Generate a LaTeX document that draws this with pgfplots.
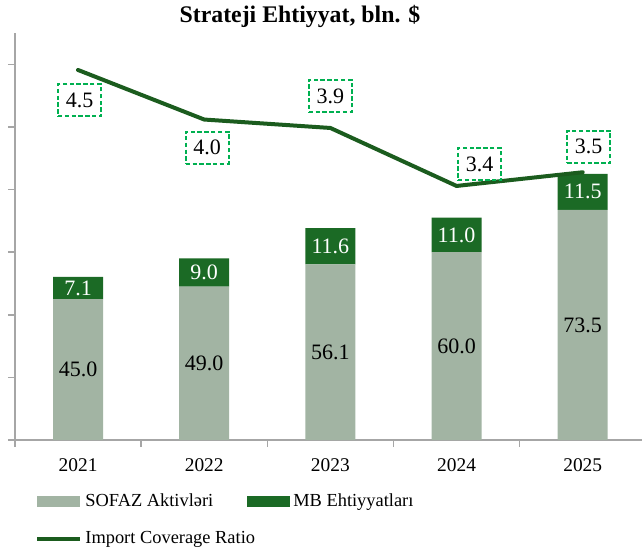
\documentclass[border=0pt]{standalone}
\usepackage{fontspec}
\setmainfont{Liberation Serif}
\usepackage{pgfplots}
\usepackage{pgfplotstable}
\pgfplotsset{compat=1.18}
\definecolor{sofaz}{RGB}{162,180,163}
\definecolor{mb}{RGB}{27,106,37}
\definecolor{lineg}{RGB}{27,92,30}
\definecolor{boxg}{RGB}{0,176,80}
\definecolor{axgray}{RGB}{166,166,166}

\pgfplotstableread{
x sofaz mb
0 45.0 7.1
1 49.0 9.0
2 56.1 11.6
3 60.0 11.0
4 73.5 11.5
}\bars

\pgfplotstableread{
x y lab dx dy
0 4.50 4.5 0.75 -15.25
1 4.03 4.0 1.5 -14
2 3.95 3.9 0 16
3 3.40 3.4 11.5 10.75
4 3.53 3.5 3 12.75
}\ratio

\begin{document}
\begin{tikzpicture}
\useasboundingbox (-7.5pt,-56pt) rectangle (313.5pt,220pt);
\begin{axis}[
  scale only axis, width=313.5pt, height=203.5pt,
  xmin=-0.5, xmax=4.47, ymin=0, ymax=130,
  ybar stacked, bar width=25pt,
  axis x line=bottom, axis y line=left,
  axis line style={draw=axgray, line width=0.75pt, -},
  tick style={draw=axgray, line width=0.75pt},
  tick align=outside,
  major tick length=3.5pt,
  ytick={0,20,...,120}, yticklabels={},
  xtick={-0.5,0.5,1.5,2.5,3.5}, xticklabels={},
  extra x ticks={0,1,2,3,4},
  extra x tick labels={2021,2022,2023,2024,2025},
  extra x tick style={major tick length=0pt},
  xticklabel style={anchor=center, yshift=-12.5pt, font=\fontsize{9.7}{12}\selectfont},
  /pgf/number format/assume math mode=true,
  title={Strateji Ehtiyyat, bln. \$},
  title style={font=\fontsize{11.9}{14}\selectfont\bfseries, at={(0.4545,1)}, anchor=center, yshift=2.5pt},
  legend columns=2,
  legend cell align=left,
  legend style={draw=none, fill=none, at={(axis description cs:0,0)}, anchor=north west,
    xshift=10pt, yshift=-25pt, font=\fontsize{9.2}{11}\selectfont, row sep=8pt, inner sep=0pt,
    nodes={inner sep=1.5pt},
    /tikz/every even column/.append style={column sep=15.5pt}},
]
\addplot[fill=sofaz, draw=none,
  point meta=explicit,
  nodes near coords={\pgfmathprintnumber[fixed,fixed zerofill,precision=1]{\pgfplotspointmeta}},
  every node near coord/.append style={anchor=center, text=black, font=\fontsize{11}{13}\selectfont},
  legend image code/.code={\fill[sofaz] (0pt,-2.75pt) rectangle (21.5pt,2.75pt);}
] table[x=x, y=sofaz, meta=sofaz] {\bars};
\addplot[fill=mb, draw=none,
  point meta=explicit,
  nodes near coords={\pgfmathprintnumber[fixed,fixed zerofill,precision=1]{\pgfplotspointmeta}},
  every node near coord/.append style={anchor=center, text=white, font=\fontsize{11}{13}\selectfont},
  legend image code/.code={\fill[mb] (0pt,-2.75pt) rectangle (21.5pt,2.75pt);}
] table[x=x, y=mb, meta=mb] {\bars};
\addlegendimage{legend image code/.code={\draw[lineg, line width=2pt] (0pt,0pt) -- (21.5pt,0pt);}}
\legend{SOFAZ Aktivləri, MB Ehtiyyatları, \makebox[0pt][l]{Import Coverage Ratio}}
\end{axis}
\begin{axis}[
  scale only axis, width=313.5pt, height=203.5pt,
  xmin=-0.5, xmax=4.47, ymin=0.99, ymax=4.851, hide axis]
\addplot[lineg, line width=2pt, line join=round, line cap=round, mark=none] table[x=x, y=y] {\ratio};
\addplot[draw=none, mark=none,
  point meta=explicit symbolic, nodes near coords,
  visualization depends on={\thisrow{dx} \as \dx},
  visualization depends on={\thisrow{dy} \as \dy},
  every node near coord/.append style={anchor=center, xshift=\dx pt, yshift=\dy pt,
    draw=boxg, dash pattern=on 2.2pt off 1.2pt, line width=1pt,
    minimum width=21.5pt, minimum height=16pt, inner sep=0pt, text=black,
    font=\fontsize{11}{13}\selectfont}
] table[x=x, y=y, meta=lab] {\ratio};
\end{axis}
\end{tikzpicture}
\end{document}
